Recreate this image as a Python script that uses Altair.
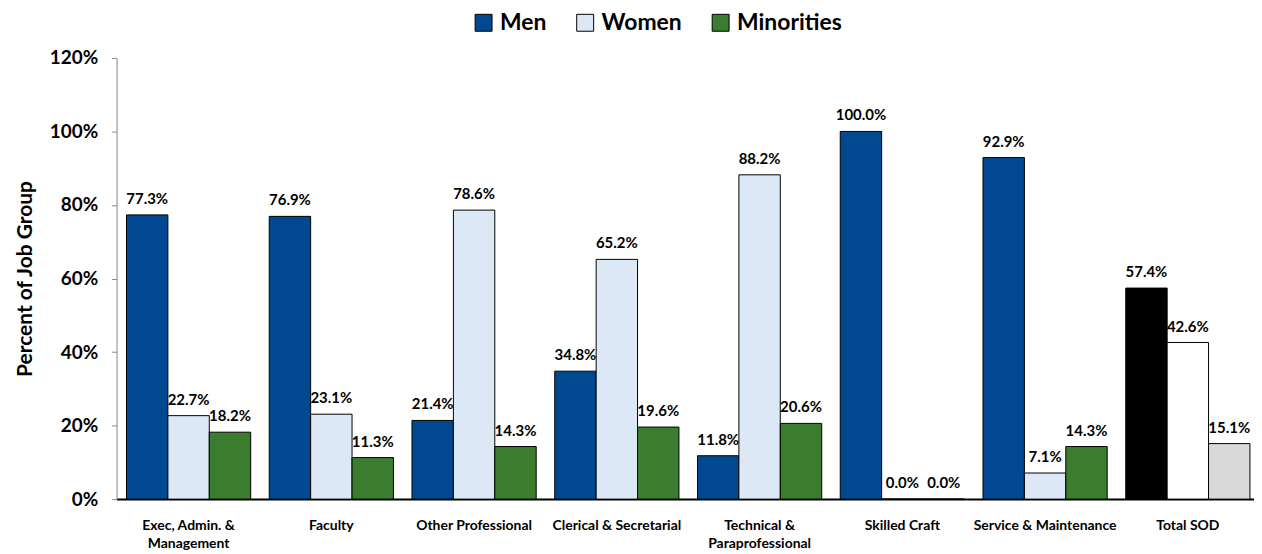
import altair as alt
import pandas as pd

categories = ["Exec, Admin. & Management", "Faculty", "Other Professional",
              "Clerical & Secretarial", "Technical & Paraprofessional",
              "Skilled Craft", "Service & Maintenance", "Total SOD"]
men = [77.3, 76.9, 21.4, 34.8, 11.8, 100.0, 92.9, 57.4]
women = [22.7, 23.1, 78.6, 65.2, 88.2, 0.0, 7.1, 42.6]
minorities = [18.2, 11.3, 14.3, 19.6, 20.6, 0.0, 14.3, 15.1]
series = ["Men", "Women", "Minorities"]

color_domain = ["Men", "Women", "Minorities", "Total Men", "Total Women", "Total Minorities"]
color_range = ["#004990", "#DCE8F6", "#3A7D2E", "#000000", "#FFFFFF", "#D9D9D9"]

rows = []
for i, c in enumerate(categories):
    for s, vals in zip(series, [men, women, minorities]):
        key = ("Total " + s) if c == "Total SOD" else s
        rows.append({"category": c, "series": s, "key": key, "value": vals[i] / 100.0})
df = pd.DataFrame(rows)

FONT = "Lato"

label_expr = ("datum.label == 'Exec, Admin. & Management' ? ['Exec, Admin. &', 'Management'] : "
              "datum.label == 'Technical & Paraprofessional' ? ['Technical &', 'Paraprofessional'] : datum.label")

x = alt.X("category:N", sort=categories, title=None,
          scale=alt.Scale(paddingInner=0.13, paddingOuter=0.049, align=0.71),
          axis=alt.Axis(labelAngle=0, labelExpr=label_expr, labelFont=FONT, labelFontSize=14,
                        labelFontWeight="bold", labelColor="black", labelPadding=20,
                        ticks=False, domainColor="black", domainWidth=2, labelLineHeight=18))
xo = alt.XOffset("series:N", sort=series)

bars = alt.Chart(df).mark_bar(stroke="black", strokeWidth=1).encode(
    x=x, xOffset=xo,
    y=alt.Y("value:Q", scale=alt.Scale(domain=[0, 1.2]),
            axis=alt.Axis(values=[0, 0.2, 0.4, 0.6, 0.8, 1.0, 1.2], format=".0%", grid=False,
                          title="Percent of Job Group", titleFont=FONT, titleFontSize=21,
                          titleFontWeight="bold", titleColor="black", titlePadding=14,
                          labelFont=FONT, labelFontSize=19, labelFontWeight="bold",
                          labelColor="black", labelPadding=14, tickSize=5,
                          tickColor="#868686", domainColor="#868686")),
    color=alt.Color("key:N", scale=alt.Scale(domain=color_domain, range=color_range),
                    legend=alt.Legend(values=series, title=None, orient="none", direction="horizontal",
                                      legendX=357, legendY=-47, symbolType="square", symbolSize=289,
                                      symbolStrokeColor="black", symbolStrokeWidth=1,
                                      labelFont=FONT, labelFontSize=23, labelFontWeight="bold",
                                      labelColor="black", columnPadding=27, labelOffset=5)),
)

labels = alt.Chart(df).mark_text(baseline="bottom", dy=-8, font=FONT, fontSize=15,
                                 fontWeight="bold", color="black").encode(
    x=x, xOffset=xo, y=alt.Y("value:Q"),
    text=alt.Text("value:Q", format=".1%"),
)

chart = (bars + labels).properties(width=1142, height=443, padding={"left": 6, "top": 2, "right": 0, "bottom": 0}).configure_view(stroke=None)

chart.save("out.html", embed_options={"renderer": "svg", "actions": False})
